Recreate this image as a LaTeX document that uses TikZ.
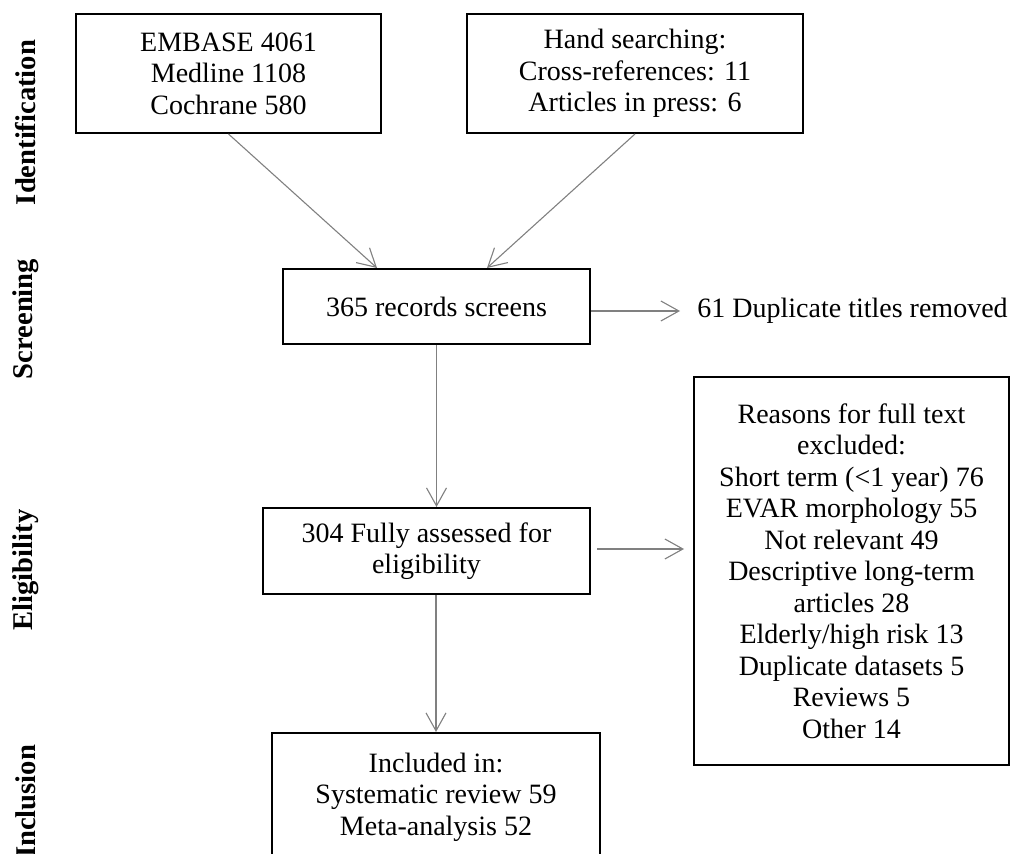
\documentclass[tikz,border=0pt]{standalone}
\usepackage{fontspec}
\setmainfont{Liberation Serif}
\usetikzlibrary{arrows.meta,positioning}
\begin{document}
\begin{tikzpicture}[x=0.5pt,y=-0.5pt,
  box/.style={draw=black, line width=1pt, align=center, inner sep=0pt,
    font=\fontsize{14}{15.75}\selectfont},
  plain/.style={inner sep=0pt, font=\fontsize{14}{15.75}\selectfont},
  side/.style={rotate=90, inner sep=0pt, font=\fontsize{14.3}{16}\selectfont\bfseries},
  conn/.style={draw=black!50, line width=0.55pt,
    -{Straight Barb[length=9pt,width=10pt,line width=0.55pt]}}]
\useasboundingbox (0,0) rectangle (1011,854);
\clip (0,0) rectangle (1011,854);
% side labels
\node[side] (lid) at (26,122.5) {Identification};
\node[side] (lsc) at (26,319) {Screening};
\node[side] (lel) at (26,570) {Eligibility};
\node[side] (lin) at (26,801.5) {Inclusion};
% boxes
\node[box, minimum width=152.5pt, minimum height=59.5pt] (b1) at (228.5,73.5)
  {EMBASE 4061\\Medline 1108\\Cochrane 580};
\node[box, minimum width=168pt, minimum height=59.5pt] (b2) at (635,73.5)
  {Hand searching:\\Cross-references: 11\\Articles in press: 6};
\node[box, minimum width=153.5pt, minimum height=37.5pt] (b3) at (436.5,306.5)
  {365 records screens};
\node[plain, anchor=west] (dup) at (697,311) {61 Duplicate titles removed};
\node[box, minimum width=163.5pt, minimum height=43pt] (b4) at (426.5,551)
  {304 Fully assessed for\\eligibility};
\node[box, minimum width=157.5pt, minimum height=194pt] (b5) at (851.5,571)
  {Reasons for full text\\excluded:\\Short term (<1 year) 76\\EVAR morphology 55\\Not relevant 49\\Descriptive long-term\\articles 28\\Elderly/high risk 13\\Duplicate datasets 5\\Reviews 5\\Other 14};
\node[box, minimum width=164pt, minimum height=64pt] (b6) at (436,797)
  {Included in:\\Systematic review 59\\Meta-analysis 52};
% connectors
\draw[conn] (b1.south) -- ([xshift=47.5pt]b3.north west);
\draw[conn] (b2.south) -- ([xshift=102.5pt]b3.north west);
\draw[conn] (b3.east |- dup.west) -- ([xshift=-8.5pt]dup.west);
\draw[conn] (b3.south) -- (b3.south |- b4.north);
\draw[conn] ([xshift=3pt,yshift=1pt]b4.east) -- ([xshift=-4.5pt,yshift=1pt]b4.east -| b5.west);
\draw[conn] (b6.north |- b4.south) -- (b6.north);
\end{tikzpicture}
\end{document}
